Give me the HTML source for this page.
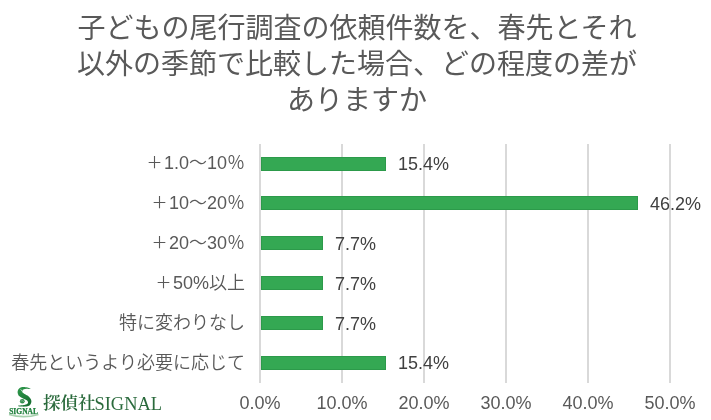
<!DOCTYPE html>
<html lang="ja">
<head>
<meta charset="utf-8">
<style>
html,body{margin:0;padding:0;background:#fff;}
#wrap{position:absolute;left:0;top:0;width:711px;height:420px;will-change:transform;}
body{width:711px;height:420px;position:relative;overflow:hidden;
  font-family:"Liberation Sans","Noto Sans CJK JP",sans-serif;}
.title{position:absolute;left:0;top:8px;width:714px;text-align:center;
  font-family:"Noto Sans CJK JP",sans-serif;font-size:28px;line-height:36px;color:#595959;font-weight:400;}
.grid{position:absolute;top:144px;height:239px;width:2px;background:#d9d9d9;}
.bar{position:absolute;height:14px;background:#34a853;box-sizing:border-box;border:1px solid #2c9a4a;left:261px;}
.cat{position:absolute;right:466px;font-size:18px;color:#595959;white-space:nowrap;
  font-family:"Liberation Sans","Noto Sans CJK JP",sans-serif;line-height:20px;}
.cat .j{font-family:"Noto Sans CJK JP",sans-serif;font-weight:350;}
.cat .pl{font-size:16px;font-weight:400;position:relative;top:-1px;margin-right:1.5px;}
.val{position:absolute;font-size:18px;color:#404040;line-height:20px;white-space:nowrap;}
.ax{position:absolute;top:393px;font-size:18px;color:#595959;line-height:20px;width:60px;text-align:center;}
.logo-text{position:absolute;left:43px;top:392px;font-family:"Liberation Serif","Noto Serif CJK SC",serif;
  font-size:18.6px;color:#2a6a3c;line-height:20px;white-space:nowrap;}
.logo-text .ls{position:relative;top:1px;margin-left:-1px;font-size:18.4px;}
.logo-text .lj{font-family:"Noto Serif CJK SC",serif;font-size:17.5px;font-weight:600;}
</style>
</head>
<body>
<div id="wrap">
<div class="title">子どもの尾行調査の依頼件数を、春先とそれ<br>以外の季節で比較した場合、どの程度の差が<br>ありますか</div>

<div class="grid" style="left:259px"></div>
<div class="grid" style="left:341px"></div>
<div class="grid" style="left:423px"></div>
<div class="grid" style="left:505px"></div>
<div class="grid" style="left:587px"></div>
<div class="grid" style="left:669px"></div>

<div class="bar" style="top:157px;width:125px"></div>
<div class="bar" style="top:196px;width:377px"></div>
<div class="bar" style="top:236px;width:62px"></div>
<div class="bar" style="top:276px;width:62px"></div>
<div class="bar" style="top:316px;width:62px"></div>
<div class="bar" style="top:356px;width:125px"></div>

<div class="cat" style="top:151px"><span class="j pl">＋</span>1.0<span class="j">～</span>10<span class="j">％</span></div>
<div class="cat" style="top:191px"><span class="j pl">＋</span>10<span class="j">～</span>20<span class="j">％</span></div>
<div class="cat" style="top:231px"><span class="j pl">＋</span>20<span class="j">～</span>30<span class="j">％</span></div>
<div class="cat" style="top:271px"><span class="j pl">＋</span>50%<span class="j">以上</span></div>
<div class="cat" style="top:311px"><span class="j">特に変わりなし</span></div>
<div class="cat" style="top:351px"><span class="j">春先というより必要に応じて</span></div>

<div class="val" style="left:398px;top:154px">15.4%</div>
<div class="val" style="left:650px;top:194px">46.2%</div>
<div class="val" style="left:335px;top:234px">7.7%</div>
<div class="val" style="left:335px;top:274px">7.7%</div>
<div class="val" style="left:335px;top:314px">7.7%</div>
<div class="val" style="left:398px;top:353px">15.4%</div>

<div class="ax" style="left:230px">0.0%</div>
<div class="ax" style="left:312px">10.0%</div>
<div class="ax" style="left:394px">20.0%</div>
<div class="ax" style="left:476px">30.0%</div>
<div class="ax" style="left:558px">40.0%</div>
<div class="ax" style="left:640px">50.0%</div>

<svg style="position:absolute;left:0;top:380px" width="44" height="40" viewBox="0 0 44 40">
  <defs><linearGradient id="sg" x1="0" y1="0" x2="0.6" y2="1"><stop offset="0" stop-color="#2f9a4c"/><stop offset="1" stop-color="#177032"/></linearGradient></defs>
  <path d="M30.5,8.7 L30.2,8.5 L29.8,8.4 L29.4,8.2 L28.9,8.0 L28.3,7.7 L27.7,7.6 L27.1,7.4 L26.5,7.3 L25.9,7.2 L25.3,7.2 L24.7,7.1 L24.0,7.0 L23.3,7.0 L22.7,7.0 L22.0,7.1 L21.4,7.2 L20.7,7.4 L20.1,7.7 L19.6,8.1 L19.2,8.5 L18.7,8.9 L18.4,9.3 L18.2,9.8 L18.0,10.2 L17.8,10.7 L17.7,11.3 L17.6,11.8 L17.6,12.4 L17.7,13.0 L17.8,13.6 L18.0,14.2 L18.3,14.8 L18.6,15.4 L19.0,15.9 L19.5,16.3 L19.9,16.6 L20.4,17.0 L20.8,17.2 L21.2,17.5 L21.7,17.8 L22.3,18.1 L23.0,18.5 L23.6,18.7 L24.2,19.0 L24.8,19.3 L25.3,19.5 L25.8,19.7 L26.1,19.9 L26.4,20.1 L26.7,20.3 L27.0,20.6 L27.3,20.8 L27.5,21.1 L27.6,21.3 L27.8,21.4 L27.8,21.5 L27.9,21.7 L28.0,21.9 L28.0,22.2 L28.0,22.5 L28.0,22.7 L27.9,23.0 L27.8,23.2 L27.7,23.4 L27.5,23.6 L27.3,23.8 L27.0,24.0 L26.5,24.2 L26.1,24.4 L25.6,24.6 L25.0,24.8 L24.4,25.0 L23.7,25.1 L22.9,25.2 L22.0,25.3 L21.1,25.3 L20.2,25.4 L19.4,25.4 L18.7,25.5 L18.2,25.6 L18.2,26.2 L18.7,26.3 L19.4,26.4 L20.2,26.5 L21.1,26.5 L22.0,26.6 L23.0,26.6 L23.8,26.7 L24.6,26.6 L25.3,26.6 L26.0,26.5 L26.6,26.5 L27.2,26.3 L27.8,26.2 L28.4,26.0 L29.0,25.7 L29.5,25.4 L30.0,25.0 L30.4,24.5 L30.7,23.9 L31.0,23.3 L31.2,22.7 L31.3,22.1 L31.4,21.5 L31.4,20.9 L31.2,20.2 L31.0,19.6 L30.7,19.0 L30.4,18.5 L30.0,17.9 L29.6,17.5 L29.2,17.0 L28.7,16.5 L28.1,16.1 L27.5,15.6 L26.9,15.2 L26.2,14.9 L25.6,14.6 L25.1,14.3 L24.6,14.0 L24.3,13.8 L23.9,13.5 L23.5,13.3 L23.2,13.0 L23.0,12.8 L22.8,12.6 L22.7,12.5 L22.6,12.4 L22.5,12.4 L22.5,12.4 L22.5,12.3 L22.4,12.2 L22.4,12.1 L22.4,12.0 L22.4,11.9 L22.4,11.7 L22.4,11.6 L22.5,11.4 L22.5,11.2 L22.5,11.0 L22.5,10.8 L22.5,10.6 L22.5,10.4 L22.5,10.2 L22.6,10.0 L22.9,9.8 L23.2,9.6 L23.7,9.4 L24.2,9.2 L24.8,9.0 L25.4,8.9 L26.0,8.8 L26.5,8.7 L27.0,8.7 L27.5,8.7 L28.1,8.8 L28.6,8.9 L29.1,9.0 L29.6,9.1 L30.0,9.1 L30.3,9.1Z" fill="url(#sg)"/>
  <path d="M20.6,9.2 Q21.6,11.6 24.8,13.4" fill="none" stroke="#ffffff" stroke-width="0.7" opacity="0.85"/>
  <ellipse cx="22.3" cy="21.3" rx="2.4" ry="2.2" fill="#2f8d4b"/>
  <path d="M20.5,21.2 Q22.3,20 24,21.6" fill="none" stroke="#ffffff" stroke-width="0.5" opacity="0.7"/>
  <text x="23.6" y="33.6" text-anchor="middle" font-family="Liberation Serif,serif" font-weight="bold" font-size="7.9" fill="#1f7f3c" stroke="#1f7f3c" stroke-width="0.25" textLength="28.8" lengthAdjust="spacingAndGlyphs">SIGNAL</text>
  <path d="M9,34.4 Q23.5,38.8 38.5,34.4" fill="none" stroke="#a6d1ae" stroke-width="1.6"/>
</svg>
<div class="logo-text"><span class="lj">探偵社</span><span class="ls">SIGNAL</span></div>
</div>
</body>
</html>
